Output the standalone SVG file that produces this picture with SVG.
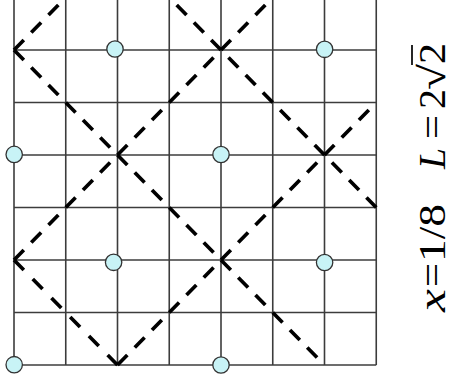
<svg xmlns="http://www.w3.org/2000/svg" width="456" height="383" viewBox="0 0 456 383">
  <style>
    .grid line { stroke: #3c3c3c; stroke-width: 1.6; }
    .dash { fill: none; stroke: #000; stroke-width: 3.7; stroke-dasharray: 14 10.57; }
    .site { fill: #c8f3f6; stroke: #333; stroke-width: 1.3; }
    .lbl text { font-family: "Liberation Serif", "DejaVu Serif", serif; font-size: 37px; fill: #000; }
    .lbl text.it { font-style: italic; }
  </style>
  <rect width="456" height="383" fill="#fff"/>
  <g id="grid" class="grid">
    <line x1="14" y1="0" x2="14" y2="365"/>
    <line x1="65.75" y1="0" x2="65.75" y2="365"/>
    <line x1="117.5" y1="0" x2="117.5" y2="365"/>
    <line x1="169.25" y1="0" x2="169.25" y2="365"/>
    <line x1="221" y1="0" x2="221" y2="365"/>
    <line x1="272.75" y1="0" x2="272.75" y2="365"/>
    <line x1="324.5" y1="0" x2="324.5" y2="365"/>
    <line x1="376.25" y1="0" x2="376.25" y2="365"/>
    <line x1="14" y1="50" x2="376.25" y2="50"/>
    <line x1="14" y1="102.5" x2="376.25" y2="102.5"/>
    <line x1="14" y1="155" x2="376.25" y2="155"/>
    <line x1="14" y1="207.5" x2="376.25" y2="207.5"/>
    <line x1="14" y1="260" x2="376.25" y2="260"/>
    <line x1="14" y1="312.5" x2="376.25" y2="312.5"/>
    <line x1="14" y1="365" x2="376.25" y2="365"/>
  </g>
  <g id="connectors">
    <path class="dash" d="M14,50 L65.75,-2.5"/>
    <path class="dash" d="M14,260 L272.75,-2.5"/>
    <path class="dash" d="M117.5,365 L376.25,102.5"/>
    <path class="dash" d="M14,50 L324.5,365"/>
    <path class="dash" d="M14,260 L117.5,365" style="stroke-dasharray:14 12.68"/>
    <path class="dash" d="M376.25,207.5 L169.25,-2.5"/>
  </g>
  <g id="site-1"><circle class="site" cx="115" cy="49" r="8.2"/></g>
  <g id="site-2"><circle class="site" cx="324.6" cy="49.3" r="8.2"/></g>
  <g id="site-3"><circle class="site" cx="14.2" cy="154.4" r="8.2"/></g>
  <g id="site-4"><circle class="site" cx="221" cy="154.5" r="8.2"/></g>
  <g id="site-5"><circle class="site" cx="113.6" cy="262.3" r="8.2"/></g>
  <g id="site-6"><circle class="site" cx="324.6" cy="262.5" r="8.2"/></g>
  <g id="site-7"><circle class="site" cx="14.2" cy="364.7" r="8.2"/></g>
  <g id="site-8"><circle class="site" cx="221" cy="365" r="8.2"/></g>
  <g id="label" class="lbl">
    <g transform="translate(444.5,0) rotate(-90)">
      <text class="it" x="-169" y="0" textLength="21" lengthAdjust="spacingAndGlyphs">L</text>
      <text x="-139" y="0" textLength="24" lengthAdjust="spacingAndGlyphs">=</text>
      <text x="-109" y="0" textLength="20" lengthAdjust="spacingAndGlyphs">2</text>
      <text x="-90" y="0" textLength="26" lengthAdjust="spacingAndGlyphs">√</text>
      <text x="-64" y="0" textLength="21" lengthAdjust="spacingAndGlyphs">2</text>
      <text class="it" x="-312" y="0" textLength="23" lengthAdjust="spacingAndGlyphs">x</text>
      <text x="-287" y="0" textLength="24" lengthAdjust="spacingAndGlyphs">=</text>
      <text x="-262" y="0" textLength="58" lengthAdjust="spacingAndGlyphs">1/8</text>
    </g>
    <line x1="412" y1="65" x2="412" y2="45" stroke="#000" stroke-width="1.7"/>
  </g>
</svg>
